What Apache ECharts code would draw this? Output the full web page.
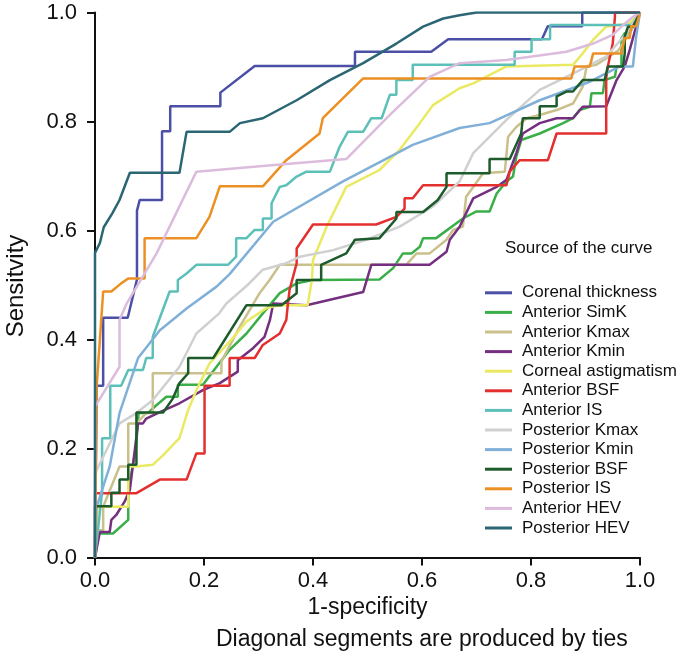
<!DOCTYPE html>
<html>
<head>
<meta charset="utf-8">
<script src="https://cdn.jsdelivr.net/npm/echarts@6/dist/echarts.min.js"></script>
<style>
html,body{margin:0;padding:0;background:#fff;}
#chart{width:689px;height:667px;}
</style>
</head>
<body>
<div id="chart"></div>
<script>
var names = ['Corenal thickness','Anterior SimK','Anterior Kmax','Anterior Kmin','Corneal astigmatism','Anterior BSF','Anterior IS','Posterior Kmax','Posterior Kmin','Posterior BSF','Posterior IS','Anterior HEV','Posterior HEV'];
var colors = ['#4b4fa6','#3aae48','#c9c08c','#74307f','#eaea62','#e3302f','#5cc0b8','#d0d0d0','#80b0d8','#1d5a2c','#ec9024','#dcbcdc','#2a6673'];
var ticks = [0, 0.2, 0.4, 0.6, 0.8, 1.0];

// [1-specificity, sensitivity]
var cornealThickness = [[0,0],[0.003,0.315],[0.015,0.315],[0.015,0.44],[0.06,0.44],[0.077,0.51],[0.077,0.636],[0.082,0.656],[0.123,0.656],[0.123,0.782],[0.138,0.782],[0.138,0.828],[0.23,0.828],[0.23,0.853],[0.293,0.902],[0.477,0.902],[0.477,0.928],[0.617,0.928],[0.648,0.951],[0.82,0.951],[0.831,0.975],[0.894,0.975],[0.894,1],[1,1]];
var antSimK = [[0,0],[0.006,0.044],[0.033,0.044],[0.061,0.069],[0.061,0.124],[0.075,0.2],[0.08,0.265],[0.097,0.265],[0.11,0.277],[0.131,0.295],[0.152,0.295],[0.152,0.317],[0.198,0.317],[0.223,0.35],[0.247,0.381],[0.278,0.411],[0.308,0.448],[0.339,0.485],[0.37,0.503],[0.4,0.509],[0.522,0.51],[0.547,0.531],[0.565,0.558],[0.581,0.558],[0.596,0.57],[0.602,0.586],[0.626,0.586],[0.675,0.622],[0.7,0.635],[0.724,0.635],[0.737,0.668],[0.755,0.69],[0.767,0.699],[0.773,0.735],[0.782,0.766],[0.816,0.778],[0.859,0.797],[0.877,0.806],[0.889,0.821],[0.908,0.827],[0.911,0.852],[0.932,0.852],[0.935,0.876],[0.954,0.882],[0.957,0.901],[0.966,0.901],[0.966,0.953],[0.972,0.962],[0.981,0.962],[1,1]];
var antKmax = [[0,0],[0,0.05],[0.015,0.05],[0.015,0.093],[0.045,0.167],[0.061,0.167],[0.061,0.246],[0.076,0.246],[0.094,0.265],[0.106,0.265],[0.106,0.338],[0.232,0.338],[0.232,0.36],[0.266,0.424],[0.302,0.485],[0.321,0.51],[0.339,0.537],[0.571,0.537],[0.59,0.558],[0.614,0.558],[0.645,0.583],[0.657,0.601],[0.675,0.607],[0.681,0.662],[0.694,0.68],[0.712,0.705],[0.752,0.708],[0.758,0.772],[0.773,0.79],[0.792,0.806],[0.816,0.812],[0.847,0.821],[0.877,0.833],[0.895,0.864],[0.902,0.901],[0.92,0.904],[0.96,0.93],[0.98,0.96],[1,1]];
var antKmin = [[0,0],[0.009,0.047],[0.027,0.047],[0.03,0.069],[0.039,0.078],[0.054,0.102],[0.064,0.124],[0.079,0.246],[0.088,0.246],[0.094,0.255],[0.122,0.268],[0.155,0.283],[0.198,0.307],[0.229,0.32],[0.262,0.341],[0.262,0.362],[0.29,0.384],[0.311,0.405],[0.321,0.436],[0.327,0.466],[0.388,0.463],[0.492,0.487],[0.507,0.537],[0.614,0.537],[0.645,0.561],[0.651,0.583],[0.669,0.607],[0.694,0.659],[0.737,0.68],[0.755,0.693],[0.773,0.742],[0.785,0.778],[0.816,0.797],[0.847,0.806],[0.877,0.806],[0.895,0.827],[0.938,0.828],[0.957,0.876],[0.972,0.901],[0.981,0.931],[0.987,0.953],[1,1]];
var cornealAstig = [[0,0],[0.005,0.093],[0.061,0.093],[0.061,0.167],[0.076,0.167],[0.106,0.17],[0.125,0.188],[0.155,0.219],[0.17,0.268],[0.186,0.307],[0.21,0.356],[0.247,0.396],[0.278,0.433],[0.315,0.458],[0.339,0.463],[0.39,0.463],[0.398,0.509],[0.4,0.546],[0.425,0.607],[0.461,0.68],[0.522,0.711],[0.559,0.748],[0.596,0.797],[0.62,0.83],[0.669,0.861],[0.694,0.87],[0.755,0.901],[0.877,0.904],[0.895,0.925],[0.914,0.95],[0.938,0.974],[0.98,0.98],[1,1]];
var antBSF = [[0,0],[0,0.118],[0.076,0.118],[0.119,0.143],[0.168,0.143],[0.186,0.191],[0.201,0.191],[0.201,0.315],[0.247,0.315],[0.247,0.366],[0.293,0.366],[0.308,0.39],[0.339,0.411],[0.351,0.436],[0.354,0.466],[0.357,0.491],[0.37,0.54],[0.37,0.567],[0.4,0.611],[0.516,0.611],[0.553,0.625],[0.568,0.64],[0.568,0.659],[0.583,0.659],[0.602,0.683],[0.755,0.683],[0.761,0.708],[0.779,0.729],[0.831,0.729],[0.847,0.778],[0.938,0.778],[0.938,0.879],[0.941,0.901],[0.95,0.943],[0.954,0.992],[0.954,1],[1,1]];
var antIS = [[0,0],[0.013,0.12],[0.013,0.219],[0.028,0.219],[0.028,0.315],[0.048,0.315],[0.061,0.344],[0.088,0.344],[0.094,0.366],[0.106,0.366],[0.106,0.405],[0.137,0.488],[0.152,0.488],[0.152,0.509],[0.168,0.521],[0.186,0.537],[0.244,0.537],[0.259,0.552],[0.259,0.586],[0.278,0.586],[0.293,0.601],[0.308,0.601],[0.308,0.622],[0.324,0.622],[0.324,0.65],[0.339,0.68],[0.351,0.683],[0.37,0.699],[0.388,0.708],[0.431,0.708],[0.449,0.754],[0.464,0.781],[0.492,0.781],[0.507,0.806],[0.526,0.806],[0.541,0.849],[0.553,0.849],[0.553,0.876],[0.583,0.876],[0.583,0.904],[0.77,0.904],[0.77,0.928],[0.801,0.928],[0.801,0.951],[0.835,0.951],[0.835,0.977],[0.984,0.977],[1,1]];
var postKmax = [[0,0],[0,0.154],[0.045,0.246],[0.076,0.265],[0.106,0.289],[0.155,0.35],[0.186,0.411],[0.228,0.448],[0.241,0.466],[0.28,0.5],[0.308,0.528],[0.351,0.54],[0.376,0.552],[0.437,0.564],[0.498,0.583],[0.559,0.607],[0.62,0.644],[0.669,0.69],[0.694,0.742],[0.755,0.803],[0.816,0.858],[0.877,0.888],[0.938,0.919],[0.975,0.962],[1,1]];
var postKmin = [[0,0],[0.003,0.093],[0.027,0.167],[0.045,0.265],[0.079,0.366],[0.119,0.417],[0.168,0.457],[0.223,0.497],[0.247,0.52],[0.327,0.616],[0.455,0.69],[0.583,0.757],[0.669,0.788],[0.724,0.797],[0.816,0.839],[0.908,0.873],[0.963,0.901],[0.987,0.901],[0.993,0.956],[1,1]];
var postBSF = [[0,0],[0,0.094],[0.03,0.094],[0.03,0.119],[0.045,0.119],[0.045,0.143],[0.061,0.143],[0.061,0.17],[0.076,0.17],[0.076,0.266],[0.125,0.266],[0.143,0.292],[0.155,0.32],[0.171,0.338],[0.171,0.366],[0.217,0.366],[0.278,0.463],[0.342,0.463],[0.37,0.485],[0.37,0.509],[0.415,0.509],[0.415,0.537],[0.461,0.558],[0.477,0.583],[0.522,0.586],[0.553,0.622],[0.553,0.634],[0.602,0.634],[0.629,0.656],[0.645,0.68],[0.645,0.705],[0.724,0.705],[0.724,0.731],[0.761,0.731],[0.782,0.778],[0.785,0.806],[0.816,0.806],[0.816,0.828],[0.847,0.828],[0.847,0.846],[0.865,0.855],[0.877,0.855],[0.895,0.876],[0.935,0.876],[0.941,0.901],[0.969,0.901],[0.972,0.925],[0.972,0.956],[0.978,0.974],[0.987,0.974],[1,1]];
var postIS = [[0,0],[0.003,0.313],[0.015,0.488],[0.03,0.488],[0.048,0.503],[0.061,0.512],[0.091,0.512],[0.091,0.586],[0.186,0.586],[0.21,0.625],[0.229,0.681],[0.308,0.681],[0.351,0.729],[0.412,0.778],[0.418,0.806],[0.492,0.879],[0.874,0.879],[0.88,0.901],[0.908,0.901],[0.914,0.925],[0.966,0.925],[0.972,0.953],[0.981,0.953],[0.984,0.975],[0.993,0.975],[1,1]];
var antHEV = [[0,0],[0,0.277],[0.045,0.35],[0.045,0.436],[0.058,0.466],[0.113,0.558],[0.186,0.708],[0.302,0.718],[0.461,0.731],[0.541,0.812],[0.614,0.882],[0.669,0.907],[0.755,0.913],[0.865,0.928],[0.914,0.943],[0.95,0.959],[0.969,0.977],[0.987,0.992],[1,1]];
var postHEV = [[0,0],[0,0.559],[0.009,0.577],[0.016,0.606],[0.032,0.632],[0.045,0.656],[0.064,0.706],[0.155,0.706],[0.168,0.781],[0.247,0.781],[0.266,0.797],[0.308,0.806],[0.37,0.839],[0.431,0.876],[0.492,0.907],[0.553,0.943],[0.602,0.974],[0.639,0.989],[0.669,0.995],[0.7,1],[1,1]];

var curves = [cornealThickness, antSimK, antKmax, antKmin, cornealAstig, antBSF, antIS, postKmax, postKmin, postBSF, postIS, antHEV, postHEV];

var chart = echarts.init(document.getElementById('chart'));
var font = '"Liberation Sans", Arial, sans-serif';

var series = [];
for (var i = 0; i < curves.length; i++) {
    series.push({
        name: names[i],
        type: 'line',
        data: curves[i],
        showSymbol: false,
        smooth: false,
        animation: false,
        lineStyle: { color: colors[i], width: 2.5 },
        itemStyle: { color: colors[i] }
    });
}

function axisCommon() {
    return {
        type: 'value',
        min: 0,
        max: 1,
        interval: 0.2,
        splitLine: { show: false },
        axisLine: { show: true, onZero: false, lineStyle: { color: '#111', width: 2 } },
        axisTick: { show: true, length: 8, lineStyle: { color: '#111', width: 2 } },
        axisLabel: {
            color: '#111', fontSize: 22, fontFamily: font,
            formatter: function (v) { return v.toFixed(1); }
        },
        nameTextStyle: { color: '#111', fontSize: 23, fontFamily: font }
    };
}

var xAxis = axisCommon();
xAxis.axisLabel.margin = 12;
xAxis.name = '1-specificity';
xAxis.nameLocation = 'middle';
xAxis.nameGap = 38;

var yAxis = axisCommon();
yAxis.axisLabel.margin = 18;

chart.setOption({
    backgroundColor: '#fff',
    title: {
        text: 'Source of the curve',
        left: 500,
        top: 235,
        textStyle: { color: '#111', fontSize: 17, fontWeight: 'normal', fontFamily: font }
    },
    legend: {
        data: names,
        orient: 'vertical',
        left: 480,
        top: 279,
        icon: 'rect',
        itemWidth: 27,
        itemHeight: 3,
        itemGap: 2,
        textStyle: { color: '#111', fontSize: 17, fontFamily: font, lineHeight: 17.6, padding: [0, 0, 0, 5] }
    },
    grid: { left: 95, top: 12.5, width: 545, height: 545, containLabel: false },
    xAxis: xAxis,
    yAxis: yAxis,
    graphic: [{
        type: 'text',
        x: 16,
        y: 286,
        rotation: Math.PI / 2,
        style: { text: 'Sensitvity', fill: '#111', font: '24px ' + font, textAlign: 'center', textVerticalAlign: 'middle' }
    }, {
        type: 'text',
        left: 216,
        top: 628,
        style: { text: 'Diagonal segments are produced by ties', fill: '#111', font: '23px ' + font }
    }],
    series: series
});
</script>
</body>
</html>
